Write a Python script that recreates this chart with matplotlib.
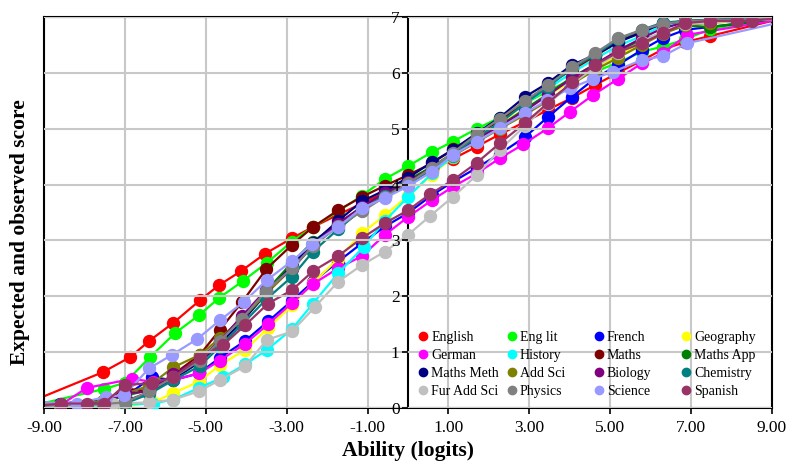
import matplotlib
matplotlib.use('Agg')
import matplotlib.pyplot as plt
from matplotlib.lines import Line2D
from matplotlib.legend import Legend

plt.rcParams['font.family'] = ['Liberation Serif', 'DejaVu Serif']

# ---------------- data ----------------
subjects = ['English', 'Eng lit', 'French', 'Geography', 'German', 'History',
            'Maths', 'Maths App', 'Maths Meth', 'Add Sci', 'Biology', 'Chemistry',
            'Fur Add Sci', 'Physics', 'Science', 'Spanish']
colors = ['#ff0000', '#00ff00', '#0000ff', '#ffff00', '#ff00ff', '#00ffff',
          '#800000', '#008000', '#000080', '#808000', '#800080', '#008080',
          '#c0c0c0', '#808080', '#9999ff', '#993366']

x_ticks = [-9, -7, -5, -3, -1, 1, 3, 5, 7, 9]
y_ticks = [0, 1, 2, 3, 4, 5, 6, 7]
curve_end_x = [-9.0, 9.0]

english_x = [-7.55, -6.87, -6.40, -5.81, -5.14, -4.67, -4.13, -3.54, -2.87, -2.35, -1.73, -1.14, -0.57,
             0.00, 0.59, 1.11, 1.70, 2.27, 2.89, 3.46, 4.05, 4.62, 5.19, 5.78, 6.30, 6.85, 7.47]
english_y = [0.64, 0.91, 1.20, 1.52, 1.93, 2.20, 2.45, 2.76, 3.04, 3.24, 3.46, 3.66, 3.86,
             4.05, 4.25, 4.46, 4.68, 4.90, 5.12, 5.34, 5.55, 5.78, 6.00, 6.22, 6.42, 6.55, 6.66]

englit_x = [-7.52, -7.00, -6.38, -5.76, -5.17, -4.67, -4.07, -3.49, -2.87, -2.35, -1.73, -1.14, -0.57,
            0.00, 0.59, 1.11, 1.70, 2.27, 2.89, 3.46, 4.05, 4.62, 5.19, 5.78, 6.30, 6.85, 7.47]
englit_y = [0.34, 0.45, 0.91, 1.34, 1.66, 1.97, 2.28, 2.60, 2.98, 3.24, 3.52, 3.80, 4.10,
            4.33, 4.58, 4.77, 5.00, 5.20, 5.45, 5.68, 5.88, 6.02, 6.18, 6.38, 6.47, 6.60, 6.78]

french_x = [-8.60, -7.50, -7.00, -6.33, -5.80, -5.17, -4.65, -4.03, -3.46, -2.87, -2.35, -1.73, -1.14, -0.57,
            0.00, 0.59, 1.11, 1.70, 2.27, 2.89, 3.46, 4.05, 4.62, 5.19, 5.78, 6.30, 6.85]
french_y = [0.08, 0.15, 0.20, 0.55, 0.50, 0.62, 0.90, 1.20, 1.55, 1.92, 2.26, 2.62, 2.95, 3.25,
            3.49, 3.81, 4.05, 4.30, 4.55, 4.85, 5.21, 5.57, 5.90, 6.14, 6.41, 6.62, 6.77]

geography_x = [-7.00, -6.30, -5.80, -5.17, -4.65, -4.03, -3.46, -2.87, -2.35, -1.73, -1.14, -0.57,
               0.00, 0.59, 1.11, 1.70, 2.27, 2.89, 3.46, 4.05, 4.62, 5.19, 5.78, 6.30, 6.85]
geography_y = [0.03, 0.10, 0.27, 0.47, 0.77, 1.04, 1.43, 1.84, 2.24, 2.67, 3.13, 3.45,
               3.80, 4.17, 4.50, 4.82, 5.08, 5.35, 5.60, 5.85, 6.10, 6.30, 6.52, 6.72, 6.86]

german_x = [-8.60, -7.94, -6.83, -6.30, -5.80, -5.17, -4.65, -4.03, -3.46, -2.87, -2.35, -1.73, -1.14, -0.57,
            0.00, 0.59, 1.11, 1.70, 2.27, 2.85, 3.46, 4.00, 4.57, 5.19, 5.78, 6.30, 6.90]
german_y = [0.05, 0.36, 0.52, 0.47, 0.50, 0.62, 0.85, 1.15, 1.50, 1.88, 2.22, 2.50, 2.72, 3.10,
            3.42, 3.72, 3.96, 4.20, 4.47, 4.72, 5.01, 5.30, 5.60, 5.89, 6.17, 6.35, 6.68]

history_x = [-6.30, -5.81, -5.17, -4.57, -4.03, -3.49, -2.87, -2.35, -1.73, -1.10, -0.57,
             0.00, 0.59, 1.11, 1.70, 2.27, 2.89, 3.46, 4.05, 4.62, 5.19, 5.78, 6.30, 6.85]
history_y = [0.08, 0.15, 0.36, 0.55, 0.78, 1.04, 1.41, 1.87, 2.41, 2.88, 3.35,
             3.78, 4.20, 4.50, 4.80, 5.15, 5.45, 5.72, 6.00, 6.25, 6.48, 6.66, 6.85, 6.90]

group_x = [-8.60, -7.55, -7.00, -6.40, -5.80, -5.15, -4.65, -4.10, -3.50, -2.87, -2.35, -1.73, -1.14, -0.57,
           0.00, 0.59, 1.11, 1.70, 2.27, 2.89, 3.46, 4.05, 4.62, 5.19, 5.78, 6.30, 6.85, 7.47]
maths_y = [0.05, 0.10, 0.35, 0.30, 0.60, 0.95, 1.40, 1.90, 2.49, 2.92, 3.24, 3.54, 3.78, 3.98,
           4.17, 4.38, 4.63, 4.90, 5.15, 5.45, 5.80, 6.05, 6.30, 6.55, 6.75, 6.88, 6.93, 6.95]
mathsapp_y = [0.05, 0.10, 0.22, 0.32, 0.55, 0.85, 1.22, 1.62, 2.10, 2.60, 2.98, 3.30, 3.60, 3.85,
              4.08, 4.32, 4.56, 4.82, 5.05, 5.35, 5.62, 5.92, 6.15, 6.38, 6.58, 6.72, 6.85, 6.82]
mathsmeth_y = [0.05, 0.07, 0.12, 0.28, 0.52, 0.82, 1.15, 1.55, 2.05, 2.55, 2.95, 3.35, 3.70, 3.90,
               4.12, 4.40, 4.62, 4.92, 5.20, 5.57, 5.82, 6.14, 6.32, 6.55, 6.72, 6.89, 6.92, 6.94]
addsci_y = [0.06, 0.12, 0.25, 0.40, 0.73, 0.95, 1.25, 1.60, 2.05, 2.50, 2.90, 3.28, 3.58, 3.82,
            4.02, 4.28, 4.52, 4.76, 5.00, 5.25, 5.50, 5.80, 6.05, 6.27, 6.50, 6.70, 6.85, 6.90]
biology_y = [0.05, 0.08, 0.26, 0.30, 0.60, 0.88, 1.20, 1.65, 2.12, 2.48, 2.92, 3.30, 3.60, 3.85,
             4.05, 4.30, 4.55, 4.82, 5.05, 5.32, 5.60, 5.90, 6.15, 6.40, 6.62, 6.80, 6.90, 6.93]
chemistry_y = [0.04, 0.07, 0.08, 0.25, 0.50, 0.75, 1.10, 1.50, 1.95, 2.35, 2.80, 3.20, 3.55, 3.80,
               4.00, 4.28, 4.55, 4.85, 5.10, 5.45, 5.75, 6.08, 6.32, 6.60, 6.77, 6.90, 6.93, 6.95]
physics_y = [0.05, 0.07, 0.10, 0.30, 0.55, 0.85, 1.20, 1.60, 2.10, 2.50, 2.90, 3.25, 3.52, 3.78,
             4.02, 4.30, 4.57, 4.90, 5.18, 5.50, 5.78, 6.10, 6.35, 6.62, 6.77, 6.88, 6.92, 6.94]

furaddsci_x = [-7.30, -6.40, -5.80, -5.17, -4.65, -4.03, -3.49, -2.87, -2.30, -1.73, -1.14, -0.57,
               0.00, 0.55, 1.11, 1.70, 2.27, 2.89, 3.46, 4.05, 4.62, 5.19, 5.78, 6.30, 6.85]
furaddsci_y = [0.08, 0.10, 0.15, 0.30, 0.50, 0.75, 1.22, 1.37, 1.81, 2.26, 2.56, 2.80,
               3.10, 3.44, 3.78, 4.17, 4.62, 5.05, 5.45, 5.80, 6.10, 6.35, 6.55, 6.75, 6.87]

science_x = [-8.18, -7.47, -7.02, -6.40, -5.84, -5.22, -4.65, -4.06, -3.49, -2.87, -2.38, -1.73, -1.14, -0.57,
             0.00, 0.59, 1.11, 1.70, 2.27, 2.89, 3.44, 4.00, 4.57, 5.07, 5.78, 6.30, 6.90]
science_y = [0.08, 0.20, 0.23, 0.71, 0.95, 1.23, 1.57, 1.90, 2.29, 2.63, 2.93, 3.24, 3.58, 3.76,
             3.97, 4.23, 4.53, 4.77, 5.01, 5.28, 5.51, 5.72, 5.89, 6.02, 6.23, 6.30, 6.53]

spanish_x = [-8.58, -7.94, -7.52, -7.00, -6.33, -5.81, -5.14, -4.57, -4.03, -3.46, -2.87, -2.35, -1.73, -1.14,
             -0.57, 0.00, 0.55, 1.11, 1.70, 2.27, 2.89, 3.46, 4.05, 4.62, 5.19, 5.78, 6.30, 6.85, 7.47, 8.13, 8.50]
spanish_y = [0.08, 0.08, 0.08, 0.41, 0.45, 0.55, 0.90, 1.13, 1.48, 1.87, 2.11, 2.45, 2.72, 3.04,
             3.31, 3.54, 3.83, 4.08, 4.39, 4.74, 5.10, 5.46, 5.83, 6.14, 6.37, 6.53, 6.71, 6.89, 6.93, 6.93, 6.93]

# expected-score curve values at x = -9 and x = 9
curve_left = [0.21, 0.09, 0.02, 0.01, 0.04, 0.01, 0.02, 0.04, 0.03, 0.10, 0.05, 0.03, 0.01, 0.04, 0.10, 0.05]
curve_right = [6.93, 6.95, 6.95, 6.96, 6.93, 6.97, 6.97, 6.96, 6.97, 6.96, 6.97, 6.97, 6.96, 6.97, 6.87, 6.97]

obs_x = [english_x, englit_x, french_x, geography_x, german_x, history_x,
         group_x, group_x, group_x, group_x, group_x, group_x,
         furaddsci_x, group_x, science_x, spanish_x]
obs_y = [english_y, englit_y, french_y, geography_y, german_y, history_y,
         maths_y, mathsapp_y, mathsmeth_y, addsci_y, biology_y, chemistry_y,
         furaddsci_y, physics_y, science_y, spanish_y]

# ---------------- figure ----------------
fig = plt.figure(figsize=(7.88, 4.71), dpi=100)
ax = fig.add_axes([44 / 788, 63 / 471, 728 / 788, 391 / 471])

ax.set_xlim(-9, 9)
ax.set_ylim(0, 7)

for i, name in enumerate(subjects):
    c = colors[i]
    lx = [curve_end_x[0]] + obs_x[i] + [curve_end_x[1]]
    ly = [curve_left[i]] + obs_y[i] + [curve_right[i]]
    ax.plot(lx, ly, color=c, lw=1.6, zorder=3 + i * 0.1, solid_capstyle='round')
    ax.plot(obs_x[i], obs_y[i], 'o', color=c, mec=c, ms=8.6, zorder=3.05 + i * 0.1)

ax.set_xticks(x_ticks)
ax.set_xticklabels([f'{v:.2f}' for v in x_ticks])
ax.set_yticks(y_ticks)
ax.set_yticklabels([str(v) for v in y_ticks])
ax.grid(True, color='#c8c8c8', lw=1.5, zorder=0)
ax.set_axisbelow(True)

for s in ['top', 'right', 'bottom', 'left']:
    ax.spines[s].set_linewidth(1.5)
    ax.spines[s].set_color('black')
ax.spines['left'].set_position(('data', 0))
ax.spines['left'].set_zorder(2.5)
ax.plot([0, 0], [0, 1], transform=ax.transAxes, color='black', lw=1.5, clip_on=False, zorder=5)

ax.tick_params(axis='x', direction='out', length=4, width=1.2, labelsize=12.5, pad=5)
ax.tick_params(axis='y', direction='out', length=4, width=1.2, labelsize=12.5, pad=2)
for lab in ax.get_yticklabels():
    lab.set_zorder(20)
ax.yaxis.set_zorder(6)

ax.set_xlabel('Ability (logits)', fontsize=15.5, fontweight='bold', labelpad=3)
fig.text(20 / 788, 1 - 232 / 471, 'Expected and observed score', rotation=90,
         fontsize=15.5, fontweight='bold', ha='center', va='center')

# legend: 4 evenly spaced columns, entries read row-wise
handles = [Line2D([], [], marker='o', ls='', color=c, mec=c, ms=6) for c in colors]
col_anchor = [0.5021, 0.6243, 0.7438, 0.8633]
for col in range(4):
    idx = list(range(col, 16, 4))
    lg = Legend(ax, [handles[i] for i in idx], [subjects[i] for i in idx],
                loc='lower left', bbox_to_anchor=(col_anchor[col], 0.0),
                frameon=False, fontsize=10, handlelength=0.6, handletextpad=0.25,
                labelspacing=0.36, borderpad=0.2)
    lg.set_zorder(10)
    ax.add_artist(lg)

fig.savefig('out.png', dpi=100)
